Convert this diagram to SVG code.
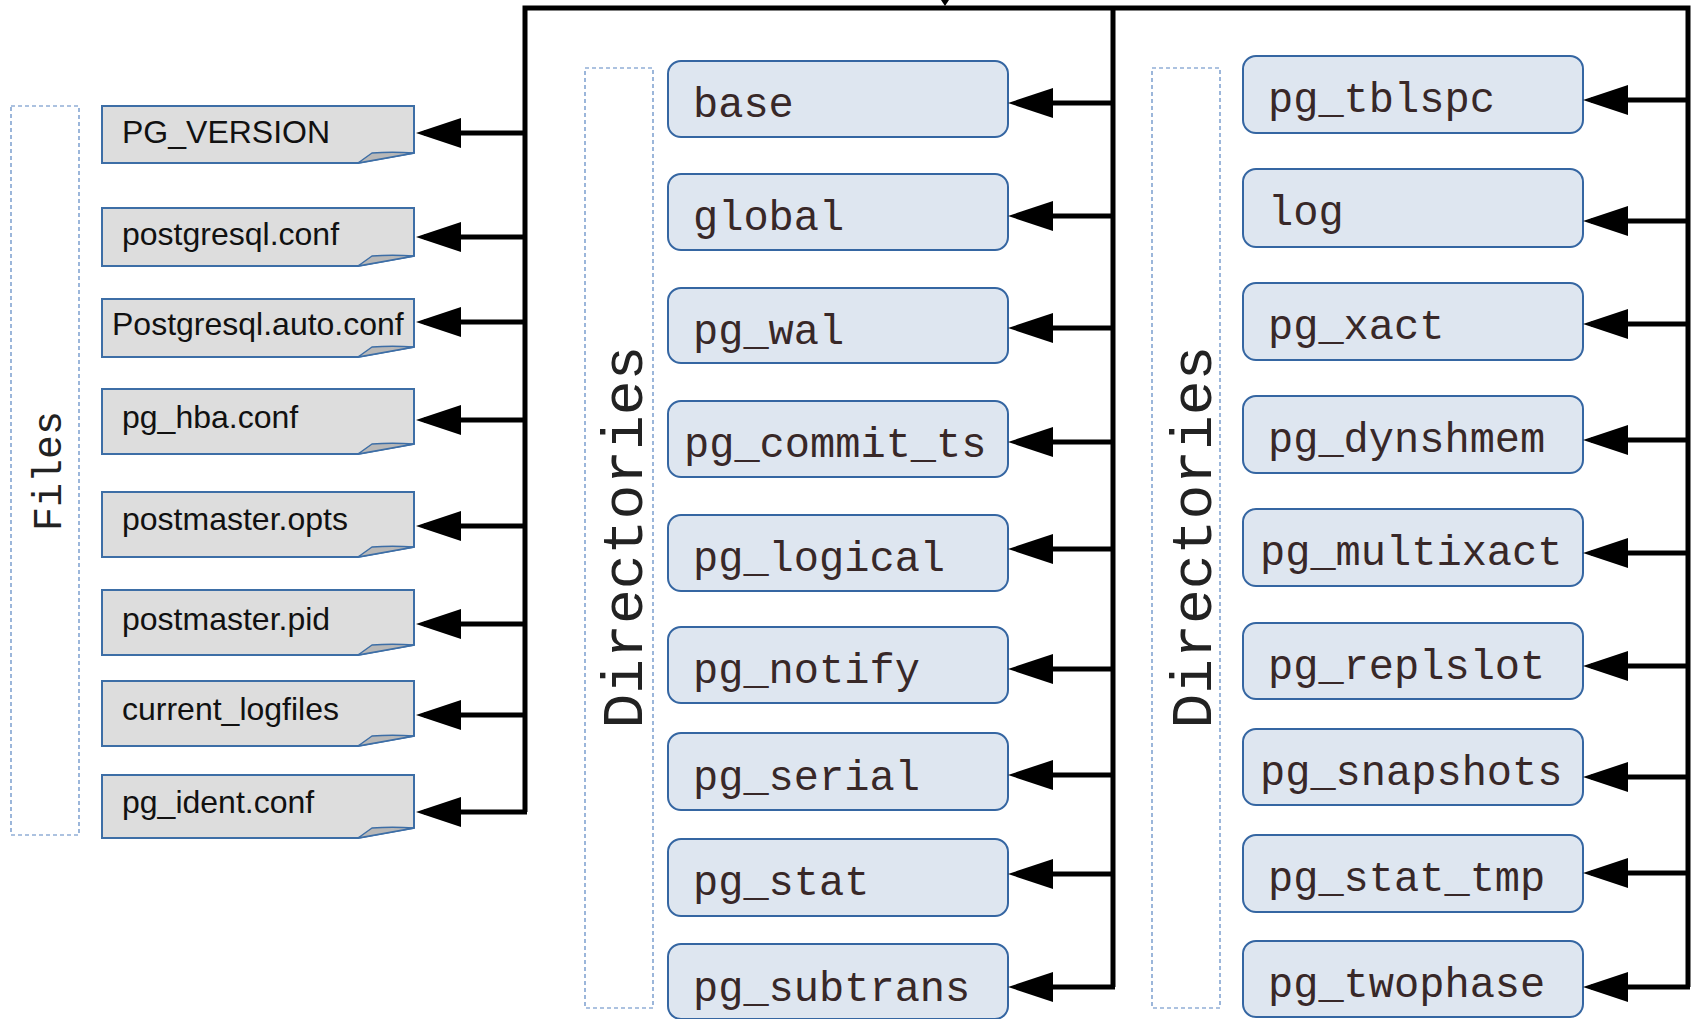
<svg xmlns="http://www.w3.org/2000/svg" width="1696" height="1019" viewBox="0 0 1696 1019">
<style>
.file{fill:#dddddd;stroke:#3d6ea6;stroke-width:2}
.fold{fill:#b8b8b8;stroke:#3d6ea6;stroke-width:1.5;stroke-linejoin:round}
.ftxt{font-family:"Liberation Sans",Arial,sans-serif;font-size:32px;fill:#111}
.dir{fill:#dee6f0;stroke:#3566a2;stroke-width:2}
.dtxt{font-family:"Liberation Mono","Courier New",monospace;font-size:42px;fill:#382828}
.grp{fill:none;stroke:#5a86c2;stroke-width:1.2;stroke-dasharray:4 3}
.glbl{font-family:"Liberation Mono","Courier New",monospace;fill:#222;text-anchor:middle}
.wire{fill:none;stroke:#000;stroke-width:5;stroke-linejoin:miter}
.br{fill:none;stroke:#000;stroke-width:5;marker-end:url(#ah)}
</style>
<defs>
<marker id="ah" markerUnits="userSpaceOnUse" orient="auto" overflow="visible" markerWidth="50" markerHeight="40">
<path d="M8,0 L-37,-15 L-37,15 Z" fill="#000"/>
</marker>
</defs>
<rect width="1696" height="1019" fill="#fff"/>

<g id="group-files">
<rect class="grp" x="11" y="106" width="68" height="729"/>
<text class="glbl" font-size="40" transform="translate(61,471) rotate(-90)">Files</text>
</g>
<g id="group-dirs-1">
<rect class="grp" x="585" y="68" width="68" height="940"/>
<text class="glbl" font-size="58" transform="translate(642,537) rotate(-90)">Directories</text>
</g>
<g id="group-dirs-2">
<rect class="grp" x="1152" y="68" width="68" height="940"/>
<text class="glbl" font-size="58" transform="translate(1211,537) rotate(-90)">Directories</text>
</g>

<g id="f-pg-version"><path class="file" d="M102,106 H414 V153 L358,163 H102 Z"/><path class="fold" d="M358,163 L372,153 Q392,151.5 414,153 Z"/><text class="ftxt" x="122" y="143">PG_VERSION</text></g>
<g id="f-postgresql-conf"><path class="file" d="M102,208 H414 V256 L358,266 H102 Z"/><path class="fold" d="M358,266 L372,256 Q392,254.5 414,256 Z"/><text class="ftxt" x="122" y="245">postgresql.conf</text></g>
<g id="f-postgresql-auto-conf"><path class="file" d="M102,299 H414 V347 L358,357 H102 Z"/><path class="fold" d="M358,357 L372,347 Q392,345.5 414,347 Z"/><text class="ftxt" x="112" y="335">Postgresql.auto.conf</text></g>
<g id="f-pg-hba-conf"><path class="file" d="M102,389 H414 V444 L358,454 H102 Z"/><path class="fold" d="M358,454 L372,444 Q392,442.5 414,444 Z"/><text class="ftxt" x="122" y="428">pg_hba.conf</text></g>
<g id="f-postmaster-opts"><path class="file" d="M102,492 H414 V547 L358,557 H102 Z"/><path class="fold" d="M358,557 L372,547 Q392,545.5 414,547 Z"/><text class="ftxt" x="122" y="530">postmaster.opts</text></g>
<g id="f-postmaster-pid"><path class="file" d="M102,590 H414 V645 L358,655 H102 Z"/><path class="fold" d="M358,655 L372,645 Q392,643.5 414,645 Z"/><text class="ftxt" x="122" y="630">postmaster.pid</text></g>
<g id="f-current-logfiles"><path class="file" d="M102,681 H414 V736 L358,746 H102 Z"/><path class="fold" d="M358,746 L372,736 Q392,734.5 414,736 Z"/><text class="ftxt" x="122" y="720">current_logfiles</text></g>
<g id="f-pg-ident-conf"><path class="file" d="M102,775 H414 V828 L358,838 H102 Z"/><path class="fold" d="M358,838 L372,828 Q392,826.5 414,828 Z"/><text class="ftxt" x="122" y="813">pg_ident.conf</text></g>

<g id="d-base"><rect class="dir" x="668" y="61" width="340" height="76" rx="13"/><text class="dtxt" x="693" y="117">base</text></g>
<g id="d-global"><rect class="dir" x="668" y="174" width="340" height="76" rx="13"/><text class="dtxt" x="693" y="230">global</text></g>
<g id="d-pg-wal"><rect class="dir" x="668" y="288" width="340" height="75" rx="13"/><text class="dtxt" x="693" y="344">pg_wal</text></g>
<g id="d-pg-commit-ts"><rect class="dir" x="668" y="401" width="340" height="76" rx="13"/><text class="dtxt" x="684" y="457">pg_commit_ts</text></g>
<g id="d-pg-logical"><rect class="dir" x="668" y="515" width="340" height="76" rx="13"/><text class="dtxt" x="693" y="571">pg_logical</text></g>
<g id="d-pg-notify"><rect class="dir" x="668" y="627" width="340" height="76" rx="13"/><text class="dtxt" x="693" y="683">pg_notify</text></g>
<g id="d-pg-serial"><rect class="dir" x="668" y="733" width="340" height="77" rx="13"/><text class="dtxt" x="693" y="790">pg_serial</text></g>
<g id="d-pg-stat"><rect class="dir" x="668" y="839" width="340" height="77" rx="13"/><text class="dtxt" x="693" y="895">pg_stat</text></g>
<g id="d-pg-subtrans"><rect class="dir" x="668" y="944" width="340" height="75" rx="13"/><text class="dtxt" x="693" y="1001">pg_subtrans</text></g>

<g id="d-pg-tblspc"><rect class="dir" x="1243" y="56" width="340" height="77" rx="13"/><text class="dtxt" x="1268" y="112">pg_tblspc</text></g>
<g id="d-log"><rect class="dir" x="1243" y="169" width="340" height="78" rx="13"/><text class="dtxt" x="1268" y="225">log</text></g>
<g id="d-pg-xact"><rect class="dir" x="1243" y="283" width="340" height="77" rx="13"/><text class="dtxt" x="1268" y="339">pg_xact</text></g>
<g id="d-pg-dynshmem"><rect class="dir" x="1243" y="396" width="340" height="77" rx="13"/><text class="dtxt" x="1268" y="452">pg_dynshmem</text></g>
<g id="d-pg-multixact"><rect class="dir" x="1243" y="509" width="340" height="77" rx="13"/><text class="dtxt" x="1260" y="565">pg_multixact</text></g>
<g id="d-pg-replslot"><rect class="dir" x="1243" y="623" width="340" height="76" rx="13"/><text class="dtxt" x="1268" y="679">pg_replslot</text></g>
<g id="d-pg-snapshots"><rect class="dir" x="1243" y="729" width="340" height="76" rx="13"/><text class="dtxt" x="1260" y="785">pg_snapshots</text></g>
<g id="d-pg-stat-tmp"><rect class="dir" x="1243" y="835" width="340" height="77" rx="13"/><text class="dtxt" x="1268" y="891">pg_stat_tmp</text></g>
<g id="d-pg-twophase"><rect class="dir" x="1243" y="941" width="340" height="76" rx="13"/><text class="dtxt" x="1268" y="997">pg_twophase</text></g>

<g id="connectors">
<path class="wire" d="M525,812 V8 H1688 V987"/>
<path class="wire" d="M1113,8 V987"/>
<polygon points="941,0 949,0 945,6" fill="#000"/>
<path class="br" d="M525,133 H424"/>
<path class="br" d="M525,237 H424"/>
<path class="br" d="M525,322 H424"/>
<path class="br" d="M525,420 H424"/>
<path class="br" d="M525,526 H424"/>
<path class="br" d="M525,624 H424"/>
<path class="br" d="M525,715 H424"/>
<path class="br" d="M527,812 H424"/>
<path class="br" d="M1113,103 H1016"/>
<path class="br" d="M1113,216 H1016"/>
<path class="br" d="M1113,328 H1016"/>
<path class="br" d="M1113,442 H1016"/>
<path class="br" d="M1113,549 H1016"/>
<path class="br" d="M1113,669 H1016"/>
<path class="br" d="M1113,775 H1016"/>
<path class="br" d="M1113,874 H1016"/>
<path class="br" d="M1115,987 H1016"/>
<path class="br" d="M1688,100 H1591"/>
<path class="br" d="M1688,221 H1591"/>
<path class="br" d="M1688,324 H1591"/>
<path class="br" d="M1688,440 H1591"/>
<path class="br" d="M1688,553 H1591"/>
<path class="br" d="M1688,666 H1591"/>
<path class="br" d="M1688,777 H1591"/>
<path class="br" d="M1688,873 H1591"/>
<path class="br" d="M1690,987 H1591"/>
</g>
</svg>
